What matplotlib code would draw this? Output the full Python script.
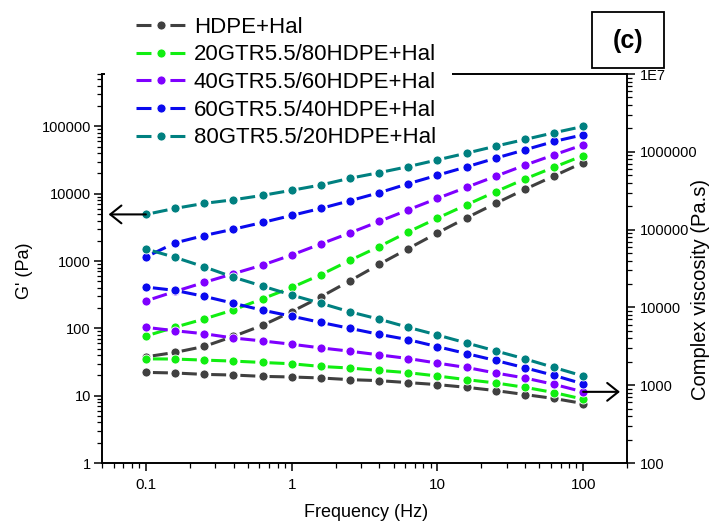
import matplotlib.pyplot as plt
from matplotlib.lines import Line2D
from matplotlib.patches import Rectangle
from matplotlib.ticker import NullFormatter

plt.rcParams['font.family'] = ['Liberation Sans', 'DejaVu Sans']

# frequency sweep (Hz)
freq = [0.1, 0.158, 0.251, 0.398, 0.631, 1.0, 1.585, 2.512, 3.981, 6.31,
        10.0, 15.85, 25.12, 39.81, 63.1, 100.0]

labels = ['HDPE+Hal', '20GTR5.5/80HDPE+Hal', '40GTR5.5/60HDPE+Hal',
          '60GTR5.5/40HDPE+Hal', '80GTR5.5/20HDPE+Hal']
colors = ['#404040', '#11ee11', '#7f00ff', '#0a0aee', '#008080']

# storage modulus G' (Pa)
g_hdpe = [37.8, 43.9, 53.9, 76, 111, 177, 294, 509, 893, 1531, 2618, 4385, 7190, 11640, 18360, 29040]
g_20 = [77, 104, 138, 188, 275, 405, 626, 1024, 1641, 2710, 4335, 6855, 10720, 16560, 24770, 36900]
g_40 = [256, 353, 481, 649, 872, 1230, 1795, 2618, 3873, 5768, 8531, 12470, 18200, 26550, 37840, 53330]
g_60 = [1148, 1858, 2394, 2972, 3741, 4764, 6053, 7870, 10350, 14090, 18830, 25060, 33760, 44880, 59730, 75180]
g_80 = [4930, 6050, 7190, 8130, 9460, 11250, 13490, 16980, 20560, 25290, 31840, 40090, 50930, 63970, 80540, 100000]

# complex viscosity (Pa.s)
e_hdpe = [1462, 1436, 1378, 1352, 1299, 1276, 1239, 1179, 1145, 1080, 1018, 940, 853, 759, 675, 582]
e_20 = [2183, 2170, 2102, 2042, 1960, 1887, 1743, 1662, 1550, 1449, 1314, 1179, 1069, 940, 805, 661]
e_40 = [5545, 5015, 4590, 4045, 3705, 3363, 3018, 2737, 2455, 2204, 1924, 1690, 1435, 1239, 1026, 822]
e_60 = [18280, 16560, 13890, 11310, 9210, 7720, 6410, 5380, 4510, 3850, 3130, 2550, 2080, 1677, 1337, 1040]
e_80 = [56400, 44060, 33240, 24490, 18800, 14420, 11310, 8770, 7060, 5545, 4420, 3490, 2760, 2183, 1690, 1314]

g_all = [g_hdpe, g_20, g_40, g_60, g_80]
e_all = [e_hdpe, e_20, e_40, e_60, e_80]

left_ticks = [1, 10, 100, 1000, 10000, 100000]
right_ticks = [100, 1000, 10000, 100000, 1000000, 10000000]
right_labels = ['100', '1000', '10000', '100000', '1000000', '1E7']
x_ticks = [0.1, 1, 10, 100]

LW = 2.2
seg_style = (12.6, (4.9, 10))   # one dash between each pair of points


def draw_series(axis, y, color):
    # each segment drawn on its own so the dash sits between the dots
    for i in range(len(freq) - 1):
        axis.plot(freq[i:i + 2], y[i:i + 2], color=color, lw=LW, ls=seg_style, zorder=2)
    axis.plot(freq, y, 'o', color=color, ms=6.5, mec='white', mew=0.6, zorder=3)


fig = plt.figure(figsize=(7.16, 5.21), dpi=100)
ax = fig.add_axes([0.1425, 0.1113, 0.7332, 0.7466])
ax2 = ax.twinx()

for y, c in zip(g_all, colors):
    draw_series(ax, y, c)
for y, c in zip(e_all, colors):
    draw_series(ax2, y, c)

ax.set_xscale('log')
ax.set_yscale('log')
ax2.set_yscale('log')
ax.set_xlim(0.05, 200)
ax.set_ylim(1, 6e5)
ax2.set_ylim(100, 1e7)

ax.set_xticks(x_ticks)
ax.set_xticklabels(['0.1', '1', '10', '100'])
ax.set_yticks(left_ticks)
ax.set_yticklabels([str(t) for t in left_ticks])
ax2.set_yticks(right_ticks)
ax2.set_yticklabels(right_labels)
for a in (ax.xaxis, ax.yaxis, ax2.yaxis):
    a.set_minor_formatter(NullFormatter())

ax.tick_params(which='both', direction='out', top=False, right=False, labelsize=10.5, width=1.1)
ax.tick_params(which='major', length=6)
ax.tick_params(which='minor', length=3.5, width=0.9)
ax.tick_params(axis='x', pad=5, labelsize=11)
ax.tick_params(axis='y', pad=2)
ax2.tick_params(which='both', direction='out', labelsize=10.5, width=1.1, pad=3)
ax2.tick_params(which='major', length=6)
ax2.tick_params(which='minor', length=3.5, width=0.9)
for a in (ax, ax2):
    for s in a.spines.values():
        s.set_linewidth(1.2)

ax.set_xlabel('Frequency (Hz)', fontsize=13)
ax.set_ylabel("G' (Pa)", fontsize=13)
ax2.set_ylabel('Complex viscosity (Pa.s)', fontsize=14.5)
ax.xaxis.set_label_coords(0.503, -0.105)
ax.yaxis.set_label_coords(-0.131, 0.494)
ax2.yaxis.set_label_coords(1.122, 0.445)

# arrows showing which axis each family belongs to
head = dict(arrowstyle='->, head_length=0.4, head_width=0.32', color='black', lw=1.5,
            shrinkA=0, shrinkB=0, mutation_scale=20)
ax.annotate('', xy=(0.0555, g_80[0]), xytext=(freq[0], g_80[0]), arrowprops=head, zorder=4)
ax2.annotate('', xy=(179, e_40[-1]), xytext=(freq[-1], e_40[-1]), arrowprops=head, zorder=4)

# legend sits on a white panel over the top of the frame
fig.patches.append(Rectangle((105 / 716, 1 - 148 / 521), 347 / 716, 148 / 521,
                             transform=fig.transFigure, facecolor='white',
                             edgecolor='none', zorder=4))
handles = [Line2D([], [], color=c, lw=LW, ls=(0, (4.9, 6.2)), marker='o', ms=6.5,
                  mec='white', mew=0.6) for c in colors]
fig.legend(handles, labels, loc='upper left', bbox_to_anchor=(0.19, 0.968),
           frameon=False, fontsize=16, handlelength=2.25, handletextpad=0.35,
           labelspacing=0.3, borderpad=0, borderaxespad=0)

# panel label
fig.patches.append(Rectangle((592 / 716, 1 - 68 / 521), 72 / 716, 56 / 521,
                             transform=fig.transFigure, facecolor='white',
                             edgecolor='black', lw=1.3, zorder=4))
fig.text(628 / 716, 1 - 41 / 521, '(c)', fontsize=18, fontweight='bold',
         ha='center', va='center', zorder=5)

fig.savefig('out.png', dpi=100)
